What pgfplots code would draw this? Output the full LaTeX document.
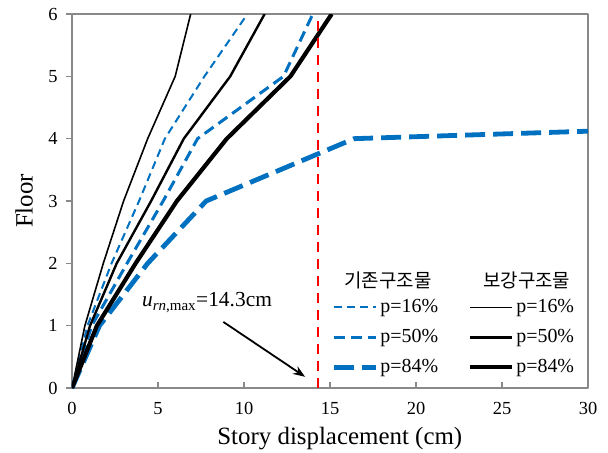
\documentclass[border=0pt]{standalone}
\usepackage{fontspec}
\setmainfont{Liberation Serif}
\newfontfamily\tnr{Liberation Serif}
\newfontfamily\kr{Noto Sans CJK KR}
\usepackage{pgfplots}
\pgfplotsset{compat=1.18}
\usetikzlibrary{arrows.meta}
\definecolor{xblue}{HTML}{0070C0}
\definecolor{axgray}{HTML}{898989}
\begin{document}
\begin{tikzpicture}
\begin{axis}[name=ax, scale only axis, width=516bp, height=374bp,
 xmin=0, xmax=30, ymin=0, ymax=6,
 xtick={0,5,...,30}, ytick={0,1,...,6},
 axis line style={axgray, line width=1.3bp},
 every tick/.style={axgray, line width=1.3bp},
 xtick align=inside, ytick align=outside, major tick length=6bp,
 xtick pos=left, ytick pos=left,
 tick label style={font=\tnr\fontsize{18.5}{20}\selectfont},
 /pgf/number format/assume math mode=true,
 xticklabel style={yshift=-11bp},
 yticklabel style={xshift=-5bp},
 xlabel={Story displacement (cm)}, ylabel={Floor},
 label style={font=\tnr\fontsize{25}{28}\selectfont},
 xlabel style={at={(axis description cs:0.519,-0.15)}, anchor=base},
 ylabel style={at={(axis description cs:-0.093,0.5)}, anchor=center},
 legend columns=2,
 legend cell align=left,
 legend image code/.code={\draw[#1] (0bp,0bp) -- (42bp,0bp);},
 legend style={at={(axis description cs:0.497,0.251)}, anchor=north west,
   draw=none, fill=none, font=\tnr\fontsize{20}{22}\selectfont,
   nodes={inner sep=2bp, text height=14bp, text depth=4bp},
   row sep=8bp,
   /tikz/every even column/.append style={column sep=28bp}},
 line join=round,
]
% existing p=16%
\addplot[xblue, line width=2bp, dash pattern=on 8bp off 5bp] coordinates {
(0,0) (0.9,1) (2.3,2) (3.9,3) (5.4,4) (7.7,5) (10.2,6)};
\addlegendentry{p=16\%}
% reinforced p=16%
\addplot[black, line width=1.6bp] coordinates {
(0,0) (0.75,1) (1.82,2) (3.0,3) (4.4,4) (6.0,5) (6.9,6)};
\addlegendentry{p=16\%}
% existing p=50%
\addplot[xblue, line width=3bp, dash pattern=on 11bp off 6bp] coordinates {
(0,0) (1.15,1) (3.2,2) (5.3,3) (7.3,4) (12.3,5) (14.0,6)};
\addlegendentry{p=50\%}
% reinforced p=50%
\addplot[black, line width=2.4bp] coordinates {
(0,0) (1.05,1) (2.6,2) (4.6,3) (6.5,4) (9.2,5) (11.2,6)};
\addlegendentry{p=50\%}
% existing p=84%
\addplot[xblue, line width=4.8bp, dash pattern=on 20bp off 8bp] coordinates {
(0,0) (1.6,1) (4.4,2) (7.8,3) (16.4,4) (30,4.12)};
\addlegendentry{p=84\%}
% reinforced p=84%
\addplot[black, line width=4.2bp] coordinates {
(0,0) (1.45,1) (3.7,2) (6.1,3) (9.0,4) (12.7,5) (15.1,6)};
\addlegendentry{p=84\%}
% u_rn,max
\addplot[red, line width=2.8bp, dash pattern=on 10bp off 7bp, forget plot] coordinates {
(14.3,0) (14.3,5.9)};
\node[font=\kr\fontsize{19}{20}\selectfont] at (axis cs:18.37,1.72) {기존구조물};
\node[font=\kr\fontsize{19}{20}\selectfont] at (axis cs:26.44,1.72) {보강구조물};
\node[anchor=base, font=\tnr\fontsize{21.5}{24}\selectfont] at (axis cs:7.85,1.30)
 {\textit{u}\textsubscript{\textit{rn},max}=14.3cm};
\draw[-{Stealth[length=12bp,width=9bp]}, line width=1.8bp] (axis cs:8.8,1.06) -- (axis cs:13.55,0.18);
\end{axis}
\pgfresetboundingbox
\path[use as bounding box] (ax.south west) ++(-72bp,-65bp) rectangle ++(608bp,453bp);
\end{tikzpicture}
\end{document}
